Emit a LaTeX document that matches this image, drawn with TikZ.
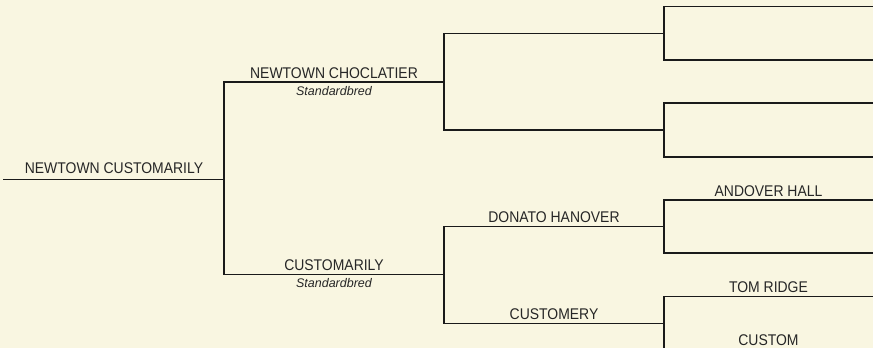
\documentclass[tikz,border=0pt]{standalone}
\usepackage{fontspec}
\usepackage{xcolor}
\usetikzlibrary{positioning}
\setmainfont{Liberation Sans}
\newfontfamily\namefont[FakeStretch=0.9]{Liberation Sans}
\definecolor{pedbg}{HTML}{F9F6E1}
\definecolor{pedline}{HTML}{1A1A1A}
\definecolor{pedtext}{HTML}{262626}

\begin{document}
\begin{tikzpicture}[x=1pt,y=-1pt]

\tikzset{
line/.style={
    draw=pedline,
    line width=1.4pt,
    line cap=rect
},
horse/.style={
    font=\namefont\fontsize{15.5}{15.5}\selectfont,
    text=pedtext,
    inner sep=0pt
},
breed/.style={
    font=\itshape\fontsize{12.5}{12.5}\selectfont,
    text=pedtext,
    inner sep=0pt
}
}

\fill[pedbg] (0,0) rectangle (873,348);
\useasboundingbox (0,0) rectangle (873,348);
\clip (0,0) rectangle (873,348);

% generations 1 to 3
\coordinate (subL) at (4,179.5);    \coordinate (subR) at (224,179.5);
\coordinate (sireL) at (224,82);    \coordinate (sireR) at (444,82);
\coordinate (damL) at (224,274.5);  \coordinate (damR) at (444,274.5);
\coordinate (ssL) at (444,33.5);    \coordinate (ssR) at (664,33.5);
\coordinate (sdL) at (444,130);     \coordinate (sdR) at (664,130);
\coordinate (dsL) at (444,226.7);   \coordinate (dsR) at (664,226.7);
\coordinate (ddL) at (444,323.3);   \coordinate (ddR) at (664,323.3);

% generation 4
\foreach \n/\y in {sss/6.5,ssd/60,sds/103,sdd/157,dss/200,dsd/253,dds/296.3,ddd/349.5}{
    \coordinate (\n L) at (664,\y);
    \coordinate (\n R) at (873,\y);
}

\draw[line] (subL) -- node[horse, above=5pt] (subT) {NEWTOWN CUSTOMARILY} (subR);
\draw[line] (sireL) -- (damL);

\draw[line] (sireL) -- node[horse, above=3pt] (sireT) {NEWTOWN CHOCLATIER} (sireR);
\node[breed, below=8pt of sireT.base] (sireB) {Standardbred};
\draw[line] (damL) -- node[horse, above=3pt] (damT) {CUSTOMARILY} (damR);
\node[breed, below=8pt of damT.base] (damB) {Standardbred};

\draw[line] (ssL) -- (sdL);
\draw[line] (dsL) -- (ddL);
\draw[line] (ssL) -- (ssR);
\draw[line] (sdL) -- (sdR);
\draw[line] (dsL) -- node[horse, above=3pt] (dsT) {DONATO HANOVER} (dsR);
\draw[line] (ddL) -- node[horse, above=3pt] (ddT) {CUSTOMERY} (ddR);

\draw[line] (sssL) -- (ssdL);
\draw[line] (sdsL) -- (sddL);
\draw[line] (dssL) -- (dsdL);
\draw[line] (ddsL) -- (dddL);
\draw[line] (sssL) -- (sssR);
\draw[line] (ssdL) -- (ssdR);
\draw[line] (sdsL) -- (sdsR);
\draw[line] (sddL) -- (sddR);
\draw[line] (dssL) -- node[horse, above=3pt] (dssT) {ANDOVER HALL} (dssR);
\draw[line] (dsdL) -- (dsdR);
\draw[line] (ddsL) -- node[horse, above=3pt] (ddsT) {TOM RIDGE} (ddsR);
\draw[line] (dddL) -- node[horse, above=3pt] (dddT) {CUSTOM} (dddR);

\end{tikzpicture}
\end{document}
